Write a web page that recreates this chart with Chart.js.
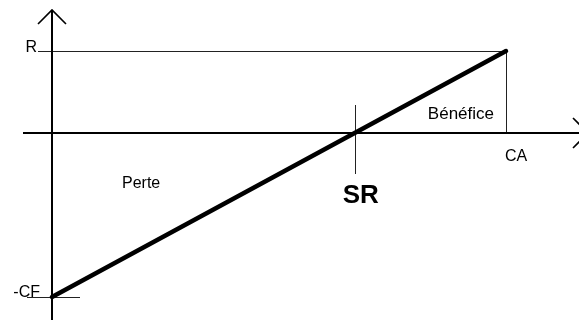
<!DOCTYPE html>
<html>
<head>
  <title>Seuil de rentabilité</title>
  <style>
    body { margin: 0; padding: 0; background: #fff; }
    #chart { display: block; }
  </style>
  <script src="https://cdn.jsdelivr.net/npm/chart.js"></script>
</head>
<body>
  <canvas id="chart" width="579" height="320"></canvas>
  <script>
    // chiffre d'affaires (x) et résultat (y)
    const caValues = [0, 100];
    const resultValues = [-100, 50];
    const seuil = 66.7;          // SR : résultat nul
    const axisLabels = ['R', '-CF', 'CA', 'SR'];
    const zoneLabels = ['Perte', 'Bénéfice'];

    const ink = '#000';
    const thin = '#222';
    const snap = v => Math.round(v) + 0.5;

    const drawAxes = {
      id: 'drawAxes',
      beforeDatasetsDraw(chart) {
        const ctx = chart.ctx;
        const x = chart.scales.x, y = chart.scales.y;
        const x0 = x.getPixelForValue(0), y0 = y.getPixelForValue(0);
        const xCA = snap(x.getPixelForValue(caValues[1]));
        const yR = snap(y.getPixelForValue(resultValues[1]));
        const yCF = snap(y.getPixelForValue(resultValues[0]));
        const xSR = snap(x.getPixelForValue(seuil));
        ctx.save();
        ctx.lineCap = 'butt';

        // fines lignes de repère
        ctx.strokeStyle = thin;
        ctx.lineWidth = 1;
        ctx.beginPath();
        ctx.moveTo(x0 - 14, yR); ctx.lineTo(xCA, yR);
        ctx.moveTo(xCA, yR); ctx.lineTo(xCA, y0);
        ctx.moveTo(xSR, y0 - 28); ctx.lineTo(xSR, y0 + 41);
        ctx.moveTo(x0 - 25, yCF); ctx.lineTo(x0 + 28, yCF);
        ctx.stroke();

        // axes
        ctx.strokeStyle = ink;
        ctx.lineWidth = 2;
        ctx.beginPath();
        ctx.moveTo(x0, chart.height); ctx.lineTo(x0, 10);
        ctx.moveTo(x0 - 29, y0); ctx.lineTo(chart.width, y0);
        ctx.stroke();

        // flèches
        ctx.lineWidth = 1.6;
        ctx.beginPath();
        ctx.moveTo(x0 - 14, 24); ctx.lineTo(x0, 10); ctx.lineTo(x0 + 14, 24);
        const tip = chart.width + 9;
        ctx.moveTo(tip - 15, y0 - 15); ctx.lineTo(tip, y0); ctx.lineTo(tip - 15, y0 + 15);
        ctx.stroke();
        ctx.restore();
      },
      afterDraw(chart) {
        const ctx = chart.ctx;
        const x = chart.scales.x, y = chart.scales.y;
        const x0 = x.getPixelForValue(0), y0 = y.getPixelForValue(0);
        const xCA = x.getPixelForValue(caValues[1]);
        const yR = y.getPixelForValue(resultValues[1]);
        const yCF = y.getPixelForValue(resultValues[0]);
        const xSR = x.getPixelForValue(seuil);
        ctx.save();
        ctx.fillStyle = ink;
        ctx.textBaseline = 'alphabetic';
        ctx.font = '16px "Liberation Sans", Arial, sans-serif';
        ctx.textAlign = 'right';
        ctx.fillText(axisLabels[0], x0 - 15, yR + 1);
        ctx.fillText(axisLabels[1], x0 - 12, yCF);
        ctx.textAlign = 'left';
        ctx.fillText(axisLabels[2], xCA - 1, y0 + 28);
        ctx.fillText(zoneLabels[0], 122, y0 + 55);
        ctx.font = '17px "Liberation Sans", Arial, sans-serif';
        ctx.textAlign = 'right';
        ctx.fillText(zoneLabels[1], xCA - 12, y0 - 14);
        ctx.font = 'bold 26px "Liberation Sans", Arial, sans-serif';
        ctx.textAlign = 'center';
        ctx.fillText(axisLabels[3], xSR + 6, y0 + 70);
        ctx.restore();
      }
    };

    new Chart(document.getElementById('chart'), {
      type: 'scatter',
      data: {
        datasets: [{
          data: caValues.map((v, i) => ({x: v, y: resultValues[i]})),
          showLine: true,
          borderColor: ink,
          borderWidth: 4.5,
          pointRadius: 0,
          borderCapStyle: 'round'
        }]
      },
      options: {
        responsive: false,
        animation: false,
        devicePixelRatio: 1,
        layout: {padding: 0},
        plugins: {legend: {display: false}, tooltip: {enabled: false}},
        scales: {
          x: {type: 'linear', display: false, min: -11.454, max: 116.08},
          y: {type: 'linear', display: false, min: -114.02, max: 81.1}
        }
      },
      plugins: [drawAxes]
    });
  </script>
</body>
</html>
